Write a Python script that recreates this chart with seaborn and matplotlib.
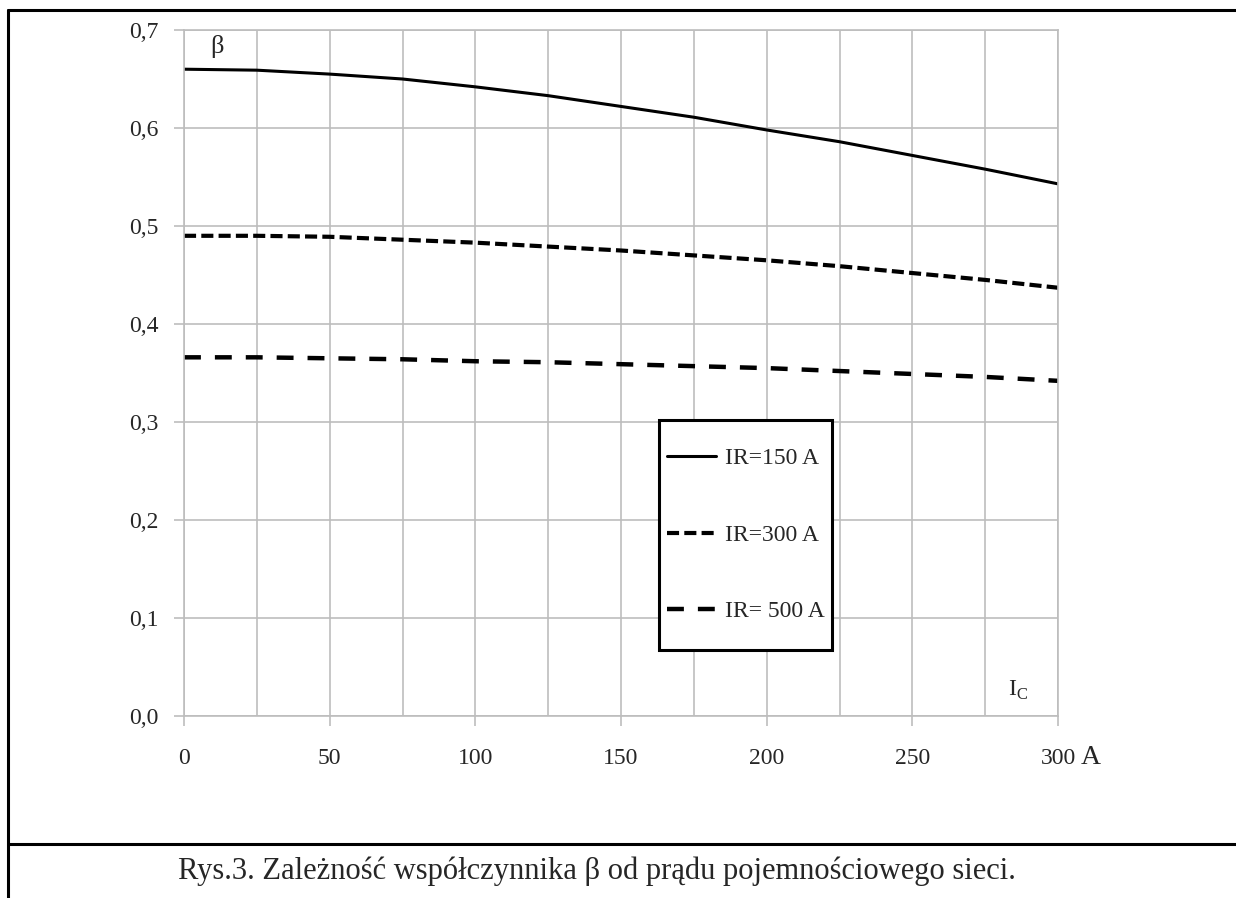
import numpy as np
import pandas as pd
import matplotlib
matplotlib.use("Agg")
import matplotlib.pyplot as plt
from matplotlib.lines import Line2D
from matplotlib.patches import Rectangle
import seaborn as sns

# ---- data ----
ic = [0, 25, 50, 75, 100, 125, 150, 175, 200, 225, 250, 275, 300]
beta_150 = [0.660, 0.659, 0.655, 0.650, 0.642, 0.633, 0.622, 0.611, 0.598, 0.586, 0.572, 0.558, 0.543]
beta_300 = [0.490, 0.490, 0.489, 0.486, 0.483, 0.479, 0.475, 0.470, 0.465, 0.459, 0.452, 0.445, 0.437]
beta_500 = [0.366, 0.366, 0.365, 0.364, 0.362, 0.361, 0.359, 0.357, 0.355, 0.352, 0.349, 0.346, 0.342]
series_labels = ["IR=150 A", "IR=300 A", "IR= 500 A"]
x_ticks = [0, 50, 100, 150, 200, 250, 300]
y_ticks = [0.0, 0.1, 0.2, 0.3, 0.4, 0.5, 0.6, 0.7]
caption = "Rys.3. Zależność współczynnika β od prądu pojemnościowego sieci."

sns.set_theme(style="white")
plt.rcParams['font.family'] = ['Liberation Serif', 'DejaVu Serif']

fig = plt.figure(figsize=(12.36, 8.98), dpi=100)
ax = fig.add_axes([184/1236, 1-716/898, (1058-184)/1236, (716-30)/898])

df = pd.DataFrame({"Ic": ic * 3,
                   "beta": beta_150 + beta_300 + beta_500,
                   "IR": [series_labels[0]]*len(ic) + [series_labels[1]]*len(ic) + [series_labels[2]]*len(ic)})

styles = {
    series_labels[0]: dict(lw=2.2, ls="-"),
    series_labels[1]: dict(lw=3.0, ls=(0, (2.9, 1.25))),
    series_labels[2]: dict(lw=3.2, ls=(0, (3.8, 3.15))),
}
for lab in series_labels:
    sub = df[df["IR"] == lab]
    st = styles[lab]
    sns.lineplot(data=sub, x="Ic", y="beta", ax=ax, color="black",
                 linewidth=st["lw"], linestyle=st["ls"], label=lab, legend=False)

GRID = "#bdbdbd"
ax.set_xlim(0, 300)
ax.set_ylim(0, 0.7)
ax.set_xticks(x_ticks)
ax.set_xticks(np.arange(0, 301, 25), minor=True)
ax.set_yticks(y_ticks)
ax.set_xticklabels([str(v) for v in x_ticks], fontsize=17)
ax.set_yticklabels([f"{v:.1f}".replace(".", ",") for v in y_ticks], fontsize=17)
ax.grid(True, which="both", color=GRID, linewidth=1.2)
ax.tick_params(axis="both", which="major", length=7, width=1.2, color=GRID,
               direction="out", left=True, bottom=True)
ax.tick_params(axis="y", which="major", pad=11)
ax.tick_params(axis="x", which="major", pad=16)
ax.tick_params(axis="x", which="minor", length=0)
for s in ax.spines.values():
    s.set_color(GRID)
    s.set_linewidth(1.2)
ax.set_xlabel("")
ax.set_ylabel("")

ax.text((210-184)/874, (716-47)/686, "β", transform=ax.transAxes, fontsize=19, ha="left", va="center")
ax.text((1008-184)/874, (716-690)/686, "I$_\\mathregular{C}$", transform=ax.transAxes, fontsize=17,
        ha="left", va="center")
ax.text((1081-184)/874, (716-757)/686, "A", transform=ax.transAxes, fontsize=20, ha="left", va="center")

# legend box
bx0, bx1, by0, by1 = 659, 832, 420, 650
ax.add_patch(Rectangle(((bx0-184)/874, (716-by1)/686), (bx1-bx0)/874, (by1-by0)/686,
                       transform=ax.transAxes, facecolor="white", edgecolor="black",
                       linewidth=2.2, zorder=5))
handles = [Line2D([0], [0], color="black", lw=styles[l]["lw"], linestyle=styles[l]["ls"]) for l in series_labels]
leg = ax.legend(handles, series_labels, loc="center",
                bbox_to_anchor=(((bx0+bx1)/2-184)/874, (716-(by0+by1)/2)/686),
                frameon=False, fontsize=17, handlelength=2.1,
                labelspacing=2.32, borderpad=0.3,
                handletextpad=0.35, borderaxespad=0)
leg.set_zorder(6)

# figure frame and caption
fig.add_artist(Line2D([8/1236, 1.0], [1-10/898, 1-10/898], color="black", lw=2.2, transform=fig.transFigure))
fig.add_artist(Line2D([8/1236, 8/1236], [0, 1-10/898], color="black", lw=2.2, transform=fig.transFigure))
fig.add_artist(Line2D([8/1236, 1.0], [1-844/898, 1-844/898], color="black", lw=2.2, transform=fig.transFigure))
fig.text(597/1236, 1-871/898, caption, fontsize=22, ha="center", va="center")

fig.savefig("out.png", dpi=100, facecolor="white")
